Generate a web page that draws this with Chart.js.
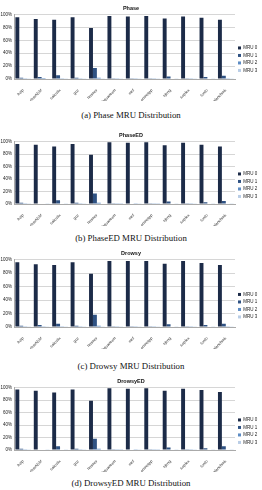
<!DOCTYPE html>
<html lang="en">
<head>
<meta charset="UTF-8">
<title>MRU Distribution</title>
<script src="https://cdn.jsdelivr.net/npm/chart.js"></script>
<style>
  body { margin: 0; background: #fff; width: 262px; height: 490px; position: relative; overflow: hidden; }
  canvas { position: absolute; left: 0; }
  .cap { position: absolute; left: 0; width: 262px; text-align: center; font-family: "Liberation Serif", serif; font-size: 8.8px; color: #111; }
</style>
</head>
<body>
<canvas id="c1" width="262" height="99" style="top:2px"></canvas>
<div class="cap" style="top:110px">(a) Phase MRU Distribution</div>
<canvas id="c2" width="262" height="97" style="top:129px"></canvas>
<div class="cap" style="top:233px">(b) PhaseED MRU Distribution</div>
<canvas id="c3" width="262" height="102" style="top:247px"></canvas>
<div class="cap" style="top:361px">(c) Drowsy MRU Distribution</div>
<canvas id="c4" width="262" height="97" style="top:375px"></canvas>
<div class="cap" style="top:478px">(d) DrowsyED MRU Distribution</div>
<script>
const benchmarks = ['bzip', 'cactusADM', 'calculix', 'gcc', 'hmmer', 'libquantum', 'mcf', 'omnetpp', 'sjeng', 'soplex', 'tonto', 'xalancbmk'];
const seriesNames = ['MRU 0', 'MRU 1', 'MRU 2', 'MRU 3'];

// Phase
const phaseMru0 = [96, 93, 92, 96, 79, 98, 97, 98, 94, 97, 95, 92];
const phaseMru1 = [2, 3, 6, 2, 17, 1, 1, 1, 4, 1, 3, 5];
const phaseMru2 = [0.5, 1.5, 1, 0.5, 2, 0.3, 0.5, 0.3, 0.8, 0.5, 0.8, 1];
const phaseMru3 = [0.3, 0.8, 0.5, 0.3, 1, 0.2, 0.3, 0.2, 0.4, 0.3, 0.4, 0.5];

// PhaseED
const phaseEdMru0 = [96, 95, 92, 96, 79, 99, 98, 99, 94, 98, 95, 92];
const phaseEdMru1 = [2, 1, 6, 2, 17, 0.5, 1, 0.5, 4, 0.5, 3, 5];
const phaseEdMru2 = [0.5, 1, 1, 0.5, 2, 0.3, 0.5, 0.3, 0.8, 0.5, 0.8, 1];
const phaseEdMru3 = [0.3, 0.5, 0.5, 0.3, 1, 0.2, 0.3, 0.2, 0.4, 0.3, 0.4, 0.5];

// Drowsy
const drowsyMru0 = [96, 93, 92, 96, 79, 98, 98, 98, 94, 98, 95, 92];
const drowsyMru1 = [2, 3, 5, 2, 18, 0.5, 1, 0.5, 4, 0.5, 3, 5];
const drowsyMru2 = [0.5, 1, 1, 0.5, 2, 0.3, 0.5, 0.3, 0.8, 0.5, 0.8, 1];
const drowsyMru3 = [0.3, 0.5, 0.5, 0.3, 1, 0.2, 0.3, 0.2, 0.4, 0.3, 0.4, 0.5];

// DrowsyED
const drowsyEdMru0 = [97, 95, 92, 97, 79, 99, 98, 99, 95, 98, 96, 93];
const drowsyEdMru1 = [2, 1, 6, 2, 18, 0.5, 1, 0.5, 4, 0.5, 3, 6];
const drowsyEdMru2 = [0.5, 1, 1, 0.5, 2, 0.3, 0.5, 0.3, 1, 0.5, 0.8, 1];
const drowsyEdMru3 = [0.3, 0.5, 0.5, 0.3, 1, 0.2, 0.3, 0.2, 0.4, 0.3, 0.4, 0.5];

const colors = ['#1c2b48', '#2f5283', '#5d8cc4', '#b9cde6'];

function makeChart(id, title, series) {
    new Chart(document.getElementById(id), {
        type: 'bar',
        data: {
            labels: benchmarks,
            datasets: series.map((d, i) => ({
                label: seriesNames[i],
                data: d,
                backgroundColor: colors[i],
                barPercentage: 1.0,
                categoryPercentage: 0.85
            }))
        },
        options: {
            responsive: false,
            animation: false,
            layout: { padding: { left: 0, right: 0, top: 0, bottom: 0 } },
            scales: {
                x: {
                    grid: { display: false, drawTicks: true },
                    border: { color: '#aaa' },
                    ticks: {
                        minRotation: 45, maxRotation: 45, autoSkip: false,
                        padding: 1, color: '#333',
                        font: { family: 'Liberation Sans', size: 4 }
                    },
                    afterFit: s => { s.height = 22; }
                },
                y: {
                    min: 0, max: 100,
                    grid: { color: '#d6d6d6', drawTicks: false },
                    border: { color: '#aaa' },
                    ticks: {
                        stepSize: 10, padding: 2, color: '#222',
                        font: { family: 'Liberation Sans', size: 4.5 },
                        callback: v => v + '%'
                    },
                    afterFit: s => { s.width = 14; }
                }
            },
            plugins: {
                title: {
                    display: true, text: title, color: '#111',
                    font: { family: 'Liberation Sans', size: 5.5, weight: 'bold' },
                    padding: { top: 3, bottom: 3 }
                },
                legend: {
                    position: 'right',
                    maxWidth: 27,
                    title: { display: true, text: ' ', font: { size: 4.5 }, padding: { top: 10, bottom: 0 } },
                    labels: {
                        boxWidth: 3, boxHeight: 3, padding: 3, color: '#222',
                        font: { family: 'Liberation Sans', size: 4.5 }
                    }
                },
                tooltip: { enabled: false }
            }
        }
    });
}

makeChart('c1', 'Phase', [phaseMru0, phaseMru1, phaseMru2, phaseMru3]);
makeChart('c2', 'PhaseED', [phaseEdMru0, phaseEdMru1, phaseEdMru2, phaseEdMru3]);
makeChart('c3', 'Drowsy', [drowsyMru0, drowsyMru1, drowsyMru2, drowsyMru3]);
makeChart('c4', 'DrowsyED', [drowsyEdMru0, drowsyEdMru1, drowsyEdMru2, drowsyEdMru3]);
</script>
</body>
</html>
